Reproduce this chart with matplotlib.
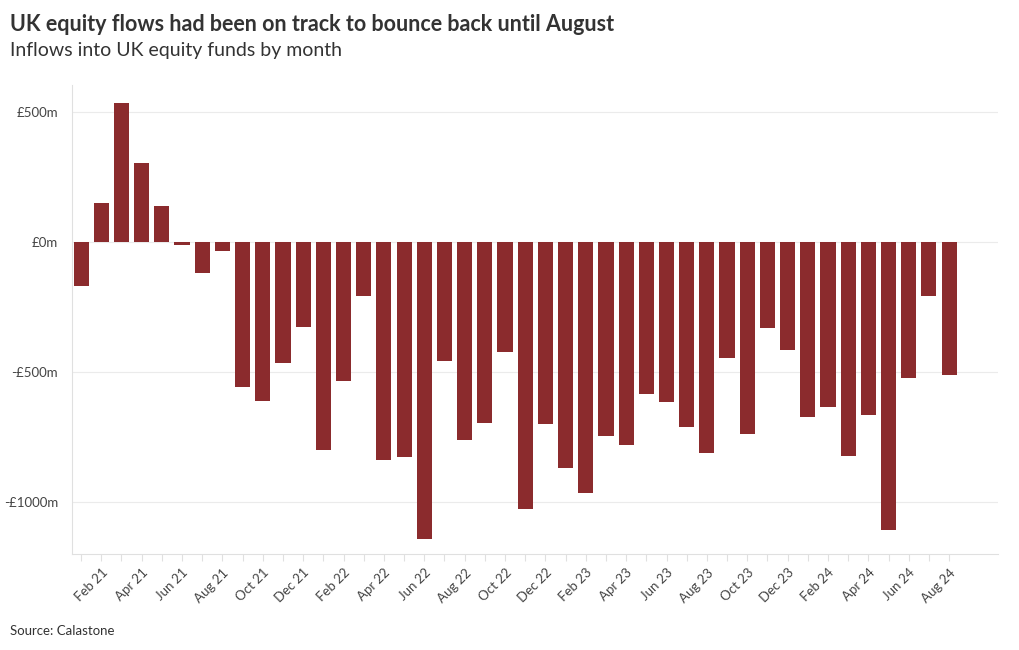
import numpy as np
import matplotlib.pyplot as plt

plt.rcParams['font.family'] = ['Lato', 'DejaVu Sans']

months = ['Jan 21', 'Feb 21', 'Mar 21', 'Apr 21', 'May 21', 'Jun 21', 'Jul 21', 'Aug 21',
          'Sep 21', 'Oct 21', 'Nov 21', 'Dec 21', 'Jan 22', 'Feb 22', 'Mar 22', 'Apr 22',
          'May 22', 'Jun 22', 'Jul 22', 'Aug 22', 'Sep 22', 'Oct 22', 'Nov 22', 'Dec 22',
          'Jan 23', 'Feb 23', 'Mar 23', 'Apr 23', 'May 23', 'Jun 23', 'Jul 23', 'Aug 23',
          'Sep 23', 'Oct 23', 'Nov 23', 'Dec 23', 'Jan 24', 'Feb 24', 'Mar 24', 'Apr 24',
          'May 24', 'Jun 24', 'Jul 24', 'Aug 24']
inflows = [-169, 150, 535, 304, 138, -12, -119, -35,
           -558, -612, -465, -327, -800, -535, -208, -838,
           -827, -1142, -458, -762, -696, -423, -1027, -700,
           -869, -965, -746, -781, -585, -615, -712, -812,
           -446, -738, -331, -415, -673, -635, -823, -665,
           -1108, -523, -208, -512]
ytick_vals = [-1000, -500, 0, 500]
ytick_labels = ['-£1000m', '-£500m', '£0m', '£500m']

fig = plt.figure(figsize=(10.2, 6.5), dpi=100)
fig.patch.set_facecolor('w')
ax = fig.add_axes([0.0706, 0.1477, 0.9074, 0.7215])

x = np.arange(len(months))
ax.bar(x, inflows, width=0.75, color='#8b2b2d', zorder=3)

ax.set_xlim(-0.45, 45.4)
ax.set_ylim(-1200, 604)
ax.set_yticks(ytick_vals)
ax.set_yticklabels(ytick_labels, fontsize=9.5, color='#444444')
ax.set_xticks(x)
ax.set_xticklabels([m if i % 2 == 1 else '' for i, m in enumerate(months)],
                   rotation=45, ha='right', rotation_mode='anchor',
                   fontsize=9.5, color='#444444')
ax.tick_params(axis='x', length=5, color='#e0e0e0', pad=4)
ax.tick_params(axis='y', length=0, pad=10)
ax.grid(axis='y', color='#ebebeb', linewidth=0.8, zorder=0)
for s in ['top', 'right']:
    ax.spines[s].set_visible(False)
for s in ['left', 'bottom']:
    ax.spines[s].set_color('#e0e0e0')
    ax.spines[s].set_linewidth(0.8)

fig.text(0.0098, 0.963, 'UK equity flows had been on track to bounce back until August',
         fontsize=15.5, fontweight='bold', color='#333333', va='center')
fig.text(0.0098, 0.922, 'Inflows into UK equity funds by month',
         fontsize=14, color='#333333', va='center')
fig.text(0.0098, 0.029, 'Source: Calastone', fontsize=9.5, color='#333333', va='center')

plt.savefig('out.png')
